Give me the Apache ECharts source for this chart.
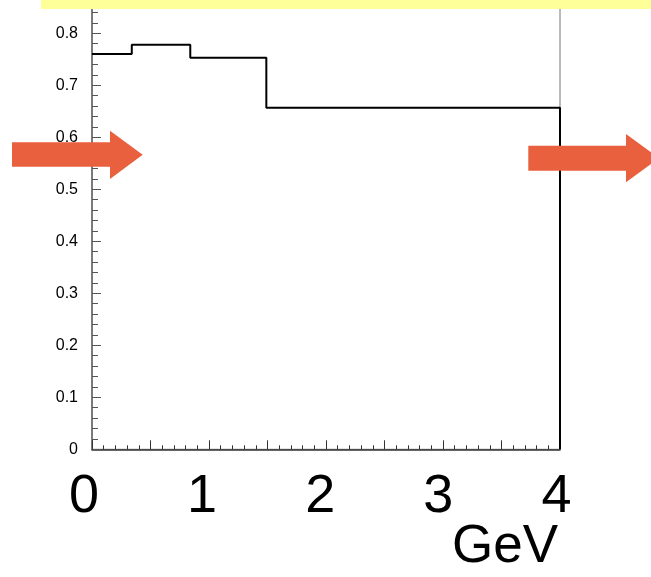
<!DOCTYPE html>
<html>
<head>
<meta charset="utf-8">
<script src="https://cdn.jsdelivr.net/npm/echarts@6/dist/echarts.min.js"></script>
<style>
  html, body { margin: 0; padding: 0; background: #fff; }
  #chart { width: 651px; height: 577px; }
</style>
</head>
<body>
<div id="chart"></div>
<script>
// Histogram bin edges (GeV) and bin contents
const binEdges = [0, 0.34, 0.84, 1.49, 4];
const binValues = [0.760, 0.778, 0.753, 0.657];
// Large energy labels under the axis
const energyLabels = [0, 1, 2, 3, 4];
const unitLabel = 'GeV';

// Step outline: one point per bin left edge, then close down at the last edge
const stepData = binValues.map((v, i) => [binEdges[i], v]);
stepData.push([binEdges[binEdges.length - 1], binValues[binValues.length - 1]]);
stepData.push([binEdges[binEdges.length - 1], 0]);

const font = 'Arial, "Liberation Sans", Helvetica, sans-serif';
const arrowColor = '#E9603E';

const chart = echarts.init(document.getElementById('chart'), null, { renderer: 'canvas' });

const baseGraphics = [
  { type: 'rect', shape: { x: 41, y: 0, width: 610, height: 9 }, style: { fill: '#FFFF99' }, z: 100 },
  {
    type: 'polygon', z: 100,
    shape: { points: [[12, 142.3], [110, 142.3], [110, 130.7], [142.7, 154.8], [110, 179], [110, 166.7], [12, 166.7]] },
    style: { fill: arrowColor }
  },
  {
    type: 'polygon', z: 100,
    shape: { points: [[528.3, 145.7], [626, 145.7], [626, 134], [659, 158.2], [626, 182.3], [626, 170.7], [528.3, 170.7]] },
    style: { fill: arrowColor }
  }
];

chart.setOption({
  animation: false,
  backgroundColor: '#ffffff',
  grid: {
    left: 92, right: 91, top: 0, bottom: 127.7,
    show: true, borderColor: '#777', borderWidth: 1,
    backgroundColor: 'transparent'
  },
  title: {
    text: unitLabel,
    left: 447, top: 516,
    textStyle: { fontFamily: font, fontSize: 53, fontWeight: 'normal', color: '#000' }
  },
  xAxis: [
    {
      type: 'value', min: 0, max: 4, interval: 0.5,
      axisLine: { show: true, onZero: false, lineStyle: { color: '#333', width: 1.5 } },
      axisTick: { show: true, inside: true, length: 9, lineStyle: { color: '#333' } },
      minorTick: { show: true, splitNumber: 5, length: 4, lineStyle: { color: '#333' } },
      axisLabel: { show: false },
      splitLine: { show: false }
    },
    {
      // slightly wider spacing used by the large energy labels below the axis
      type: 'value', min: 0.068, max: 4.03,
      position: 'bottom',
      show: false
    }
  ],
  yAxis: {
    type: 'value', min: 0, max: 0.864, interval: 0.1,
    axisLine: { show: true, lineStyle: { color: '#666', width: 1.5 } },
    axisTick: { show: true, inside: true, length: 9, lineStyle: { color: '#555' } },
    minorTick: { show: true, splitNumber: 5, length: 6, lineStyle: { color: '#555' } },
    splitLine: { show: false },
    axisLabel: {
      showMaxLabel: false,
      margin: 14,
      fontFamily: font, fontSize: 16, color: '#000',
      formatter: v => (v === 0 ? '0' : v.toFixed(1))
    }
  },
  series: [{
    type: 'line',
    xAxisIndex: 0,
    step: 'end',
    data: stepData,
    symbol: 'none',
    lineStyle: { color: '#000', width: 2 },
    z: 3
  }],
  graphic: baseGraphics
});

// Large energy labels, centred on their positions along the label scale
const labelY = chart.convertToPixel({ yAxisIndex: 0 }, 0) + 21;
const labelTexts = energyLabels.map(v => ({
  type: 'text', z: 100,
  x: chart.convertToPixel({ xAxisIndex: 1 }, v),
  y: labelY,
  style: {
    text: String(v), fontFamily: font, fontSize: 54, fill: '#000',
    align: 'center', verticalAlign: 'top'
  }
}));
chart.setOption({ graphic: baseGraphics.concat(labelTexts) });
</script>
</body>
</html>
